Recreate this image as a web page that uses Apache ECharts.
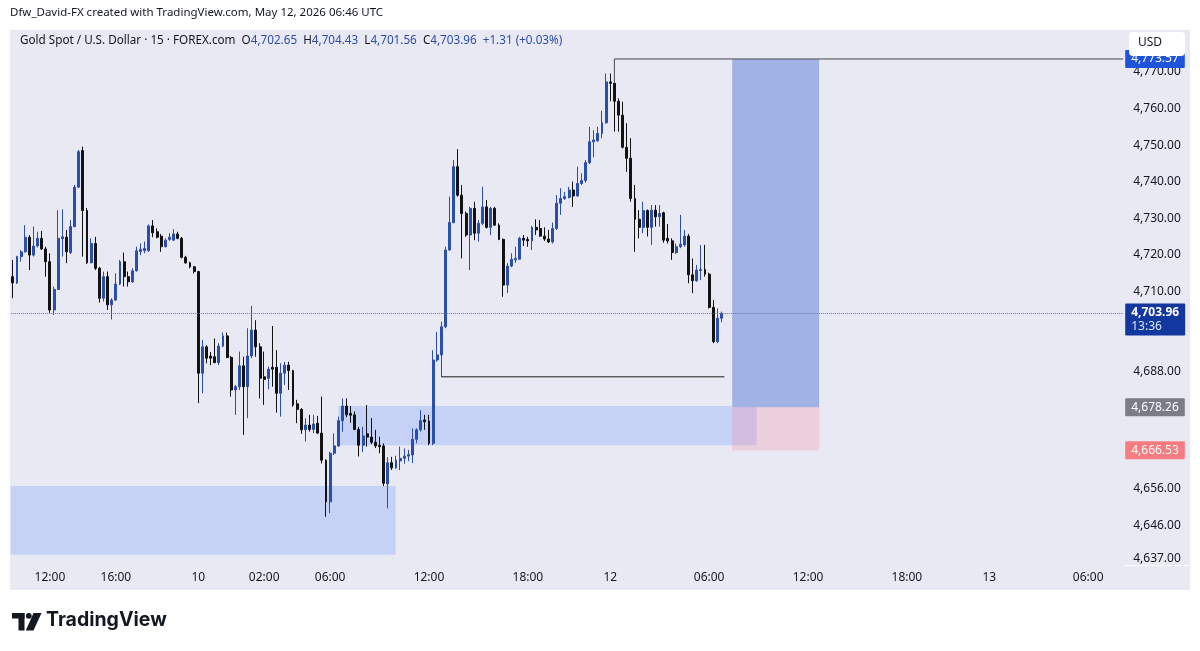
<!DOCTYPE html>
<html>
<head>
<meta charset="utf-8">
<title>Gold Spot / U.S. Dollar 15</title>
<script src="https://cdn.jsdelivr.net/npm/echarts@6/dist/echarts.min.js"></script>
<style>
  html, body { margin: 0; padding: 0; background: #fff; }
  #main { width: 1200px; height: 651px; }
</style>
</head>
<body>
<div id="main"></div>
<script>
// trading sessions (UTC), one category per 15 min bar, empty future bars at the end
const sessions = [
  ['2026-05-08T09:45Z', '2026-05-08T20:45Z'],
  ['2026-05-10T22:00Z', '2026-05-11T20:45Z'],
  ['2026-05-11T22:00Z', '2026-05-12T20:45Z'],
  ['2026-05-12T22:00Z', '2026-05-13T08:00Z']
];

// time axis labels
const tickLabels = {
  '05-08 12:00': '12:00', '05-08 16:00': '16:00', '05-10 22:00': '10',
  '05-11 02:00': '02:00', '05-11 06:00': '06:00', '05-11 12:00': '12:00',
  '05-11 18:00': '18:00', '05-12 00:00': '12', '05-12 06:00': '06:00',
  '05-12 12:00': '12:00', '05-12 18:00': '18:00', '05-13 00:00': '13',
  '05-13 06:00': '06:00'
};

// price scale labels
const priceTicks = [4770, 4760, 4750, 4740, 4730, 4720, 4710, 4688, 4678, 4666, 4656, 4646, 4637];

// OHLC
const opens = [
  4714.0, 4712.3, 4719.5, 4720.8, 4724.8, 4719.9, 4722.4, 4724.5, 4721.6, 4718.1,
  4704.9, 4710.5, 4724.4, 4724.8, 4720.6, 4727.7, 4738.5, 4748.5, 4732.1, 4717.8,
  4723.1, 4716.3, 4708.1, 4714.0, 4706.3, 4707.6, 4712.0, 4718.1, 4714.0, 4712.6,
  4715.6, 4720.9, 4721.1, 4721.1, 4727.9, 4726.3, 4725.1, 4722.2, 4724.2, 4724.0,
  4725.7, 4724.5, 4719.3, 4717.8, 4716.7, 4715.4, 4687.6, 4694.8, 4692.3, 4692.1,
  4690.5, 4695.0, 4697.8, 4691.9, 4683.0, 4683.9, 4689.6, 4683.9, 4692.3, 4699.4,
  4694.8, 4686.6, 4686.2, 4689.2, 4689.2, 4682.1, 4687.6, 4689.8, 4688.3, 4679.2,
  4677.7, 4672.1, 4673.4, 4672.2, 4673.9, 4671.2, 4663.8, 4652.4, 4665.7, 4667.7,
  4674.6, 4678.6, 4676.6, 4676.2, 4672.2, 4667.9, 4671.0, 4670.1, 4668.7, 4667.9,
  4667.7, 4657.3, 4663.1, 4661.7, 4663.6, 4664.3, 4664.9, 4665.2, 4669.5, 4672.1,
  4674.8, 4674.5, 4668.4, 4691.2, 4692.6, 4700.3, 4721.3, 4728.8, 4744.1, 4736.3,
  4731.3, 4725.4, 4732.7, 4725.9, 4728.6, 4733.1, 4727.5, 4732.7, 4728.1, 4724.2,
  4711.7, 4716.9, 4718.6, 4718.8, 4724.5, 4724.2, 4723.8, 4727.5, 4727.2, 4725.1,
  4724.3, 4723.5, 4727.2, 4734.1, 4735.4, 4735.7, 4737.7, 4736.1, 4739.5, 4740.3,
  4745.2, 4750.9, 4751.2, 4753.2, 4756.1, 4767.3, 4766.9, 4762.0, 4758.2, 4749.4,
  4746.4, 4735.4, 4729.7, 4727.5, 4732.1, 4727.5, 4732.2, 4730.4, 4731.5, 4724.5,
  4723.8, 4720.6, 4722.2, 4722.7, 4725.1, 4714.5, 4712.9, 4715.7, 4716.0, 4714.7,
  4705.6, 4696.2, 4702.65
];
const highs = [
  4718.6, 4719.7, 4721.3, 4728.1, 4725.4, 4727.7, 4726.3, 4726.5, 4722.2, 4720.4,
  4711.3, 4732.2, 4732.4, 4726.8, 4729.5, 4739.1, 4748.7, 4749.6, 4732.8, 4724.5,
  4724.9, 4716.7, 4715.4, 4715.4, 4708.1, 4714.9, 4718.6, 4720.6, 4715.4, 4716.3,
  4722.2, 4723.1, 4723.6, 4728.3, 4729.5, 4727.2, 4725.7, 4724.5, 4725.9, 4727.0,
  4726.3, 4724.9, 4719.7, 4718.1, 4716.9, 4715.6, 4696.7, 4695.3, 4693.4, 4697.1,
  4695.8, 4698.7, 4698.7, 4692.3, 4684.4, 4693.5, 4692.1, 4699.9, 4706.0, 4702.1,
  4695.8, 4693.5, 4689.4, 4700.5, 4693.9, 4690.3, 4690.7, 4690.7, 4688.5, 4680.3,
  4678.0, 4675.3, 4676.2, 4676.2, 4675.9, 4681.2, 4664.0, 4666.1, 4671.1, 4675.7,
  4680.7, 4680.7, 4678.6, 4677.1, 4672.9, 4672.9, 4678.9, 4675.3, 4672.1, 4670.2,
  4668.4, 4664.6, 4664.7, 4665.0, 4667.5, 4667.0, 4666.6, 4672.5, 4672.5, 4677.5,
  4676.2, 4676.2, 4693.9, 4698.9, 4701.7, 4722.2, 4735.9, 4745.9, 4748.9, 4739.1,
  4731.8, 4733.1, 4734.5, 4729.5, 4738.6, 4735.0, 4733.1, 4733.1, 4728.6, 4724.5,
  4717.7, 4720.4, 4722.2, 4724.9, 4725.4, 4724.9, 4727.9, 4729.7, 4729.5, 4727.5,
  4726.8, 4728.8, 4736.3, 4738.2, 4737.2, 4738.6, 4740.0, 4744.1, 4742.3, 4745.9,
  4755.0, 4754.1, 4755.0, 4759.4, 4769.6, 4769.6, 4767.0, 4762.8, 4761.9, 4756.0,
  4751.9, 4739.1, 4732.2, 4734.5, 4732.4, 4733.6, 4733.6, 4733.6, 4731.8, 4728.4,
  4724.5, 4723.1, 4730.9, 4726.8, 4725.7, 4719.0, 4717.2, 4722.7, 4722.7, 4715.1,
  4707.6, 4705.3, 4704.43
];
const lows = [
  4708.1, 4712.0, 4718.1, 4720.6, 4715.8, 4719.5, 4722.0, 4721.3, 4714.0, 4704.1,
  4703.5, 4710.4, 4719.5, 4717.7, 4720.2, 4727.5, 4738.3, 4719.5, 4717.5, 4717.7,
  4715.8, 4706.9, 4707.2, 4704.9, 4702.3, 4707.4, 4711.7, 4711.3, 4711.3, 4712.3,
  4715.4, 4719.9, 4720.4, 4720.8, 4724.8, 4724.5, 4720.8, 4722.0, 4723.8, 4723.8,
  4724.2, 4719.0, 4717.5, 4716.3, 4714.9, 4679.4, 4682.1, 4690.3, 4689.8, 4690.3,
  4689.8, 4694.7, 4691.7, 4681.2, 4676.2, 4683.0, 4670.7, 4675.3, 4691.7, 4692.1,
  4680.7, 4678.9, 4683.2, 4683.9, 4676.8, 4675.7, 4684.4, 4683.0, 4678.4, 4673.9,
  4671.0, 4668.9, 4671.6, 4671.2, 4671.0, 4662.9, 4648.3, 4649.3, 4665.2, 4667.5,
  4671.6, 4675.5, 4674.0, 4672.0, 4664.8, 4666.0, 4667.5, 4668.2, 4667.1, 4665.7,
  4656.7, 4650.6, 4661.1, 4661.4, 4661.1, 4662.8, 4663.5, 4663.0, 4668.4, 4671.6,
  4672.1, 4667.9, 4667.9, 4690.7, 4686.6, 4699.9, 4721.1, 4728.6, 4735.9, 4719.0,
  4724.9, 4715.8, 4724.0, 4723.6, 4728.1, 4727.2, 4725.4, 4727.9, 4724.0, 4708.5,
  4709.5, 4716.6, 4717.8, 4718.6, 4722.4, 4722.2, 4721.3, 4725.4, 4724.9, 4723.8,
  4723.2, 4723.1, 4726.8, 4730.9, 4735.0, 4735.4, 4733.1, 4735.9, 4739.1, 4739.7,
  4744.8, 4746.7, 4750.9, 4751.9, 4755.9, 4762.0, 4753.7, 4753.7, 4749.1, 4742.7,
  4734.5, 4720.8, 4724.5, 4725.9, 4725.0, 4722.7, 4727.7, 4727.7, 4723.3, 4723.1,
  4718.6, 4720.2, 4721.8, 4722.2, 4712.2, 4709.5, 4712.6, 4713.1, 4714.0, 4705.3,
  4695.8, 4695.8, 4701.56
];
const closes = [
  4712.3, 4719.5, 4720.8, 4724.8, 4719.9, 4722.4, 4724.5, 4721.6, 4718.1, 4704.9,
  4710.5, 4724.5, 4724.9, 4720.8, 4727.7, 4738.5, 4748.2, 4732.1, 4717.8, 4723.1,
  4716.3, 4708.1, 4714.0, 4706.3, 4707.6, 4712.0, 4718.1, 4714.0, 4712.6, 4715.6,
  4721.1, 4721.5, 4721.7, 4727.9, 4726.0, 4724.8, 4722.2, 4724.0, 4724.8, 4725.7,
  4724.5, 4719.3, 4717.8, 4716.7, 4715.4, 4687.6, 4694.8, 4691.7, 4691.7, 4690.5,
  4695.0, 4697.8, 4691.9, 4683.0, 4683.9, 4689.6, 4683.9, 4692.3, 4699.4, 4694.8,
  4686.2, 4685.9, 4688.7, 4688.7, 4682.1, 4687.6, 4689.8, 4688.3, 4678.9, 4677.7,
  4672.1, 4673.4, 4672.2, 4673.7, 4671.2, 4663.8, 4652.4, 4665.7, 4667.7, 4674.6,
  4678.6, 4676.2, 4676.1, 4672.2, 4667.9, 4670.4, 4670.1, 4668.7, 4667.7, 4667.5,
  4657.5, 4663.1, 4661.7, 4663.8, 4664.3, 4664.9, 4665.3, 4669.5, 4672.1, 4674.6,
  4674.3, 4668.4, 4691.2, 4692.6, 4700.3, 4721.3, 4728.8, 4744.1, 4736.3, 4731.3,
  4725.4, 4732.7, 4725.9, 4728.6, 4733.1, 4727.5, 4732.7, 4728.1, 4724.2, 4711.7,
  4716.9, 4718.8, 4719.0, 4724.5, 4724.0, 4723.8, 4727.5, 4726.8, 4725.1, 4724.3,
  4723.5, 4727.2, 4734.1, 4735.4, 4735.9, 4737.7, 4736.1, 4739.5, 4740.3, 4745.2,
  4750.9, 4751.4, 4753.2, 4756.1, 4767.3, 4766.9, 4762.0, 4758.2, 4749.4, 4746.4,
  4735.4, 4729.7, 4727.5, 4732.1, 4727.5, 4732.2, 4730.4, 4731.3, 4724.0, 4723.8,
  4720.6, 4722.2, 4722.9, 4725.1, 4714.5, 4712.9, 4715.8, 4716.0, 4714.7, 4705.6,
  4696.2, 4702.65, 4703.96
];

// drawings: zones [fromBar, toBar, top, bottom] (fractional bar index = band edge)
const zoneFrom   = [-0.5,   79.0,   174.6,   174.6];
const zoneTo     = [92.9,   180.5,  195.7,   195.7];
const zoneTop    = [4656.7, 4678.6, 4773.57, 4678.26];
const zoneBottom = [4637.9, 4667.9, 4678.26, 4666.53];
const zoneFill   = ['#c5d2f5', '#c5d2f5', '#a1b3e5', 'rgba(242,140,165,0.28)'];

// drawn lines as [bar, price] points
const lowLine  = [[104, 4686.6], [172.7, 4686.6]];
const highPath = [[146, 4767.0], [146, 4773.57], [269.5, 4773.57]];
const paths = [lowLine, highPath];
const pathColor = ['#1b1b1b', '#4a4a4a'];

// price labels on the scale
const lastPrice = 4703.96, countdown = '13:36';
const entryPrice = 4678.26, stopPrice = 4666.53, targetPrice = 4773.57;

const FONT = "'Noto Sans', 'Liberation Sans', sans-serif";
const fmt = v => v.toLocaleString('en-US', { minimumFractionDigits: 2, maximumFractionDigits: 2 });

const categories = [];
const pad = n => String(n).padStart(2, '0');
sessions.forEach(([a, b]) => {
  for (let t = Date.parse(a); t <= Date.parse(b); t += 15 * 60000) {
    const d = new Date(t);
    categories.push(pad(d.getUTCMonth() + 1) + '-' + pad(d.getUTCDate()) + ' ' + pad(d.getUTCHours()) + ':' + pad(d.getUTCMinutes()));
  }
});

const candles = opens.map((o, i) => [o, closes[i], lows[i], highs[i]]);

// pixel point for a fractional bar index through the category scale
function atBar(api, f, v) {
  const i = Math.round(f);
  const p = api.coord([i, v]);
  p[0] += (f - i) * api.size([1, 0])[0];
  return p;
}

function badge(value, bg) {
  return {
    yAxis: value,
    lineStyle: { color: 'rgba(0,0,0,0)', width: 0 },
    label: {
      show: true, position: 'end', distance: 2,
      formatter: fmt(value),
      backgroundColor: bg, color: '#fff', fontSize: 12, fontFamily: FONT,
      padding: [3, 6, 3, 6], lineHeight: 12, borderRadius: 1
    }
  };
}

const chart = echarts.init(document.getElementById('main'));
chart.setOption({
  animation: false,
  backgroundColor: '#ffffff',
  grid: { left: 10.8, top: 30, width: 1112.4, height: 535.4, outerBoundsMode: 'none' },
  xAxis: {
    type: 'category',
    data: categories,
    axisLine: { show: false },
    axisTick: { show: false },
    splitLine: { show: false },
    axisLabel: {
      interval: (i, v) => v in tickLabels,
      formatter: v => tickLabels[v] || '',
      color: '#131722', fontSize: 12, fontFamily: FONT, margin: 6
    }
  },
  yAxis: {
    type: 'value',
    position: 'right',
    min: 4635, max: 4781.5,
    axisLine: { show: false },
    axisTick: { show: false },
    splitLine: { show: false },
    axisLabel: {
      customValues: priceTicks,
      formatter: v => fmt(v),
      color: '#131722', fontSize: 12, fontFamily: FONT, margin: 10
    }
  },
  graphic: [
    { type: 'rect', z: -10, silent: true, shape: { x: 10, y: 30, width: 1180, height: 560 }, style: { fill: '#e9e9f3' } },
    { type: 'line', silent: true, shape: { x1: 1124, y1: 565.5, x2: 1190, y2: 565.5 }, style: { stroke: '#ffffff', lineWidth: 1 } },
    {
      type: 'text', left: 10, top: 7,
      style: { text: 'Dfw_David-FX created with TradingView.com, May 12, 2026 06:46 UTC', fill: '#131722', font: '11.5px ' + FONT }
    },
    {
      type: 'text', left: 20, top: 35,
      style: {
        text: '{n|Gold Spot / U.S. Dollar · 15 · FOREX.com}  {k|O}{v|4,702.65}  {k|H}{v|4,704.43}  {k|L}{v|4,701.56}  {k|C}{v|4,703.96}  {v|+1.31 (+0.03%)}',
        font: '11.7px ' + FONT,
        rich: {
          n: { fill: '#131722', font: '11.7px ' + FONT },
          k: { fill: '#131722', font: '11.7px ' + FONT },
          v: { fill: '#2b4ea8', font: '11.7px ' + FONT }
        }
      }
    },
    { type: 'rect', shape: { x: 1129, y: 32, width: 56, height: 24, r: 4 }, style: { fill: '#ffffff' }, z: 100 },
    { type: 'text', left: 1138, top: 37, z: 101, style: { text: 'USD', fill: '#131722', font: '12px ' + FONT } },
    // TradingView logo
    { type: 'rect', shape: { x: 12, y: 613, width: 12.5, height: 5.5 }, style: { fill: '#131722' } },
    { type: 'rect', shape: { x: 18.5, y: 613, width: 6, height: 17.5 }, style: { fill: '#131722' } },
    { type: 'circle', shape: { cx: 28.8, cy: 615.8, r: 2.9 }, style: { fill: '#131722' } },
    { type: 'polygon', shape: { points: [[33.5, 613], [41.5, 613], [33.5, 630.5], [25.8, 630.5]] }, style: { fill: '#131722' } },
    { type: 'text', left: 46, top: 610, style: { text: 'TradingView', fill: '#131722', font: 'bold 19.5px Inter, ' + FONT } }
  ],
  series: [
    {
      type: 'custom',
      silent: true,
      z: 1,
      clip: true,
      data: zoneTop.map((v, k) => [k, v]),
      renderItem: (params, api) => {
        const k = params.dataIndex;
        const a = atBar(api, zoneFrom[k], zoneTop[k]);
        const b = atBar(api, zoneTo[k], zoneBottom[k]);
        return {
          type: 'rect',
          shape: { x: a[0], y: a[1], width: b[0] - a[0], height: b[1] - a[1] },
          style: { fill: zoneFill[k] }
        };
      }
    },
    {
      type: 'custom',
      silent: true,
      z: 3,
      clip: true,
      data: paths.map((p, k) => [k, p[0][1]]),
      renderItem: (params, api) => {
        const k = params.dataIndex;
        return {
          type: 'polyline',
          shape: { points: paths[k].map(p => atBar(api, p[0], p[1])) },
          style: { stroke: pathColor[k], lineWidth: 1, fill: null }
        };
      }
    },
    {
      type: 'candlestick',
      data: candles,
      barWidth: 2.4,
      z: 2,
      itemStyle: {
        color: '#2b4ea8', color0: '#121212',
        borderColor: '#2b4ea8', borderColor0: '#121212', borderWidth: 1
      },
      markLine: {
        silent: true,
        symbol: ['none', 'none'],
        data: [
          {
            yAxis: lastPrice,
            lineStyle: { type: 'dotted', color: '#5a76c4', width: 1 },
            label: {
              show: true, position: 'end', distance: 2, offset: [0, 6],
              formatter: '{p|' + fmt(lastPrice) + '}\n{t|' + countdown + '}',
              backgroundColor: '#12379f', padding: [2, 6, 2, 6], borderRadius: 1,
              rich: {
                p: { color: '#fff', fontSize: 12, lineHeight: 14, fontFamily: FONT, fontWeight: 'bold' },
                t: { color: '#dfe6f7', fontSize: 12, lineHeight: 14, fontFamily: FONT }
              }
            }
          },
          badge(entryPrice, '#7b7d86'),
          badge(stopPrice, '#f77c80'),
          badge(targetPrice, '#1f53d9')
        ]
      }
    }
  ]
});
</script>
</body>
</html>
